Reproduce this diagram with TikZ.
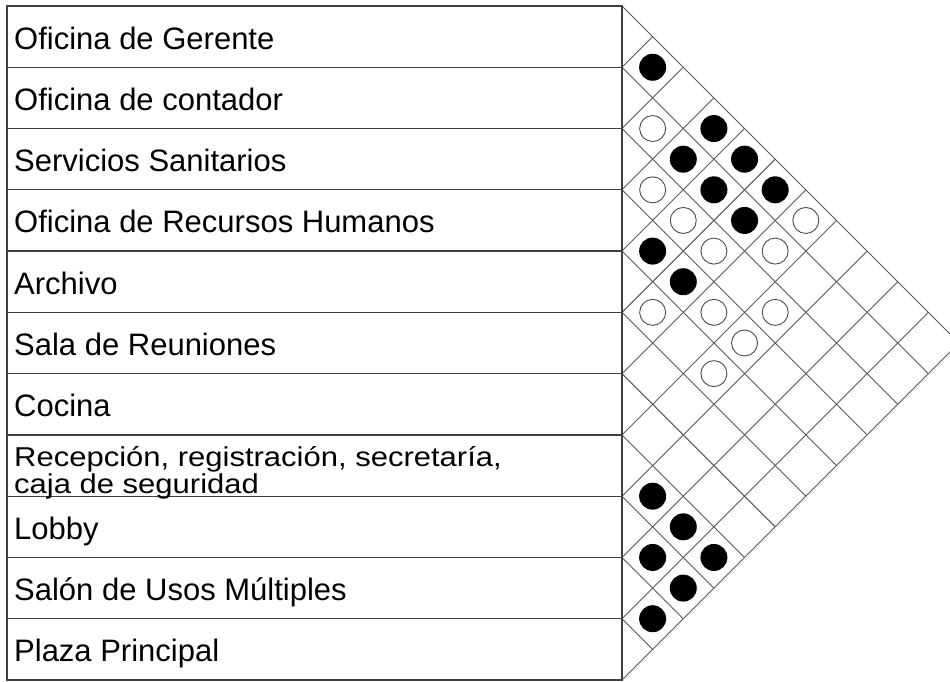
\documentclass[tikz,border=0pt]{standalone}
\usepackage{fontspec}
\setmainfont{Liberation Sans}
\begin{document}
\begin{tikzpicture}[x=1pt,y=-1pt,
  tableline/.style={draw=black!75, line width=1.2pt},
  gridline/.style={draw=black!65, line width=0.9pt},
  fulldot/.style={circle, fill=black, minimum size=27pt, inner sep=0pt},
  opendot/.style={circle, draw=black!70, line width=0.9pt, fill=white, minimum size=26pt, inner sep=0pt},
  rowtext/.style={anchor=base west, inner sep=0pt, font=\fontsize{31}{26}\selectfont}
]
\def\h{61.2727}
\useasboundingbox (0,0) rectangle (950,682);
\clip (0,0) rectangle (950,682);
\fill[white] (0,0) rectangle (950,682);
% diagonal grid
\foreach \k in {0,...,11}{
  \pgfmathsetmacro\b{6+\k*\h}
  \pgfmathsetmacro\td{(680-\b)/2}
  \pgfmathsetmacro\tu{(\b-6)/2}
  \draw[gridline] (622,\b) -- ++(\td,\td);
  \draw[gridline] (622,\b) -- ++(\tu,-\tu);
}
% table
\draw[tableline] (7,6) rectangle (622,680);
\foreach \k in {1,...,10}{
  \pgfmathsetmacro\b{6+\k*\h}
  \draw[tableline] (7,\b) -- (622,\b);
}
% row texts
\foreach \k/\t in {1/Oficina de Gerente, 2/Oficina de contador, 3/Servicios Sanitarios, 4/Oficina de Recursos Humanos, 5/Archivo, 6/Sala de Reuniones, 7/Cocina, 9/Lobby, 10/Salón de Usos Múltiples, 11/Plaza Principal}{
  \pgfmathsetmacro\c{6+(\k-0.5)*\h+12.5}
  \node[rowtext] (r\k) at (14,\c) {\t};
}
\node[rowtext] (r8a) at (14,466) {\scalebox{1}[0.88]{Recepción, registración, secretaría,}};
\node[rowtext] (r8b) at (14,493) {\scalebox{1}[0.88]{caja de seguridad}};
% filled dots
\foreach \i/\j in {1/2,1/4,2/4,1/5,2/5,1/6,2/6,4/5,4/6,8/9,8/10,9/10,8/11,9/11,10/11}{
  \pgfmathsetmacro\px{622+(\j-\i)*\h/2}
  \pgfmathsetmacro\py{6+(\i-1+\j)*\h/2}
  \node[fulldot] (f\i-\j) at (\px,\py) {};
}
% open dots
\foreach \i/\j in {2/3,3/4,3/5,1/7,3/6,2/7,5/6,4/7,3/8,4/8,5/8}{
  \pgfmathsetmacro\px{622+(\j-\i)*\h/2}
  \pgfmathsetmacro\py{6+(\i-1+\j)*\h/2}
  \node[opendot] (o\i-\j) at (\px,\py) {};
}
\end{tikzpicture}
\end{document}
